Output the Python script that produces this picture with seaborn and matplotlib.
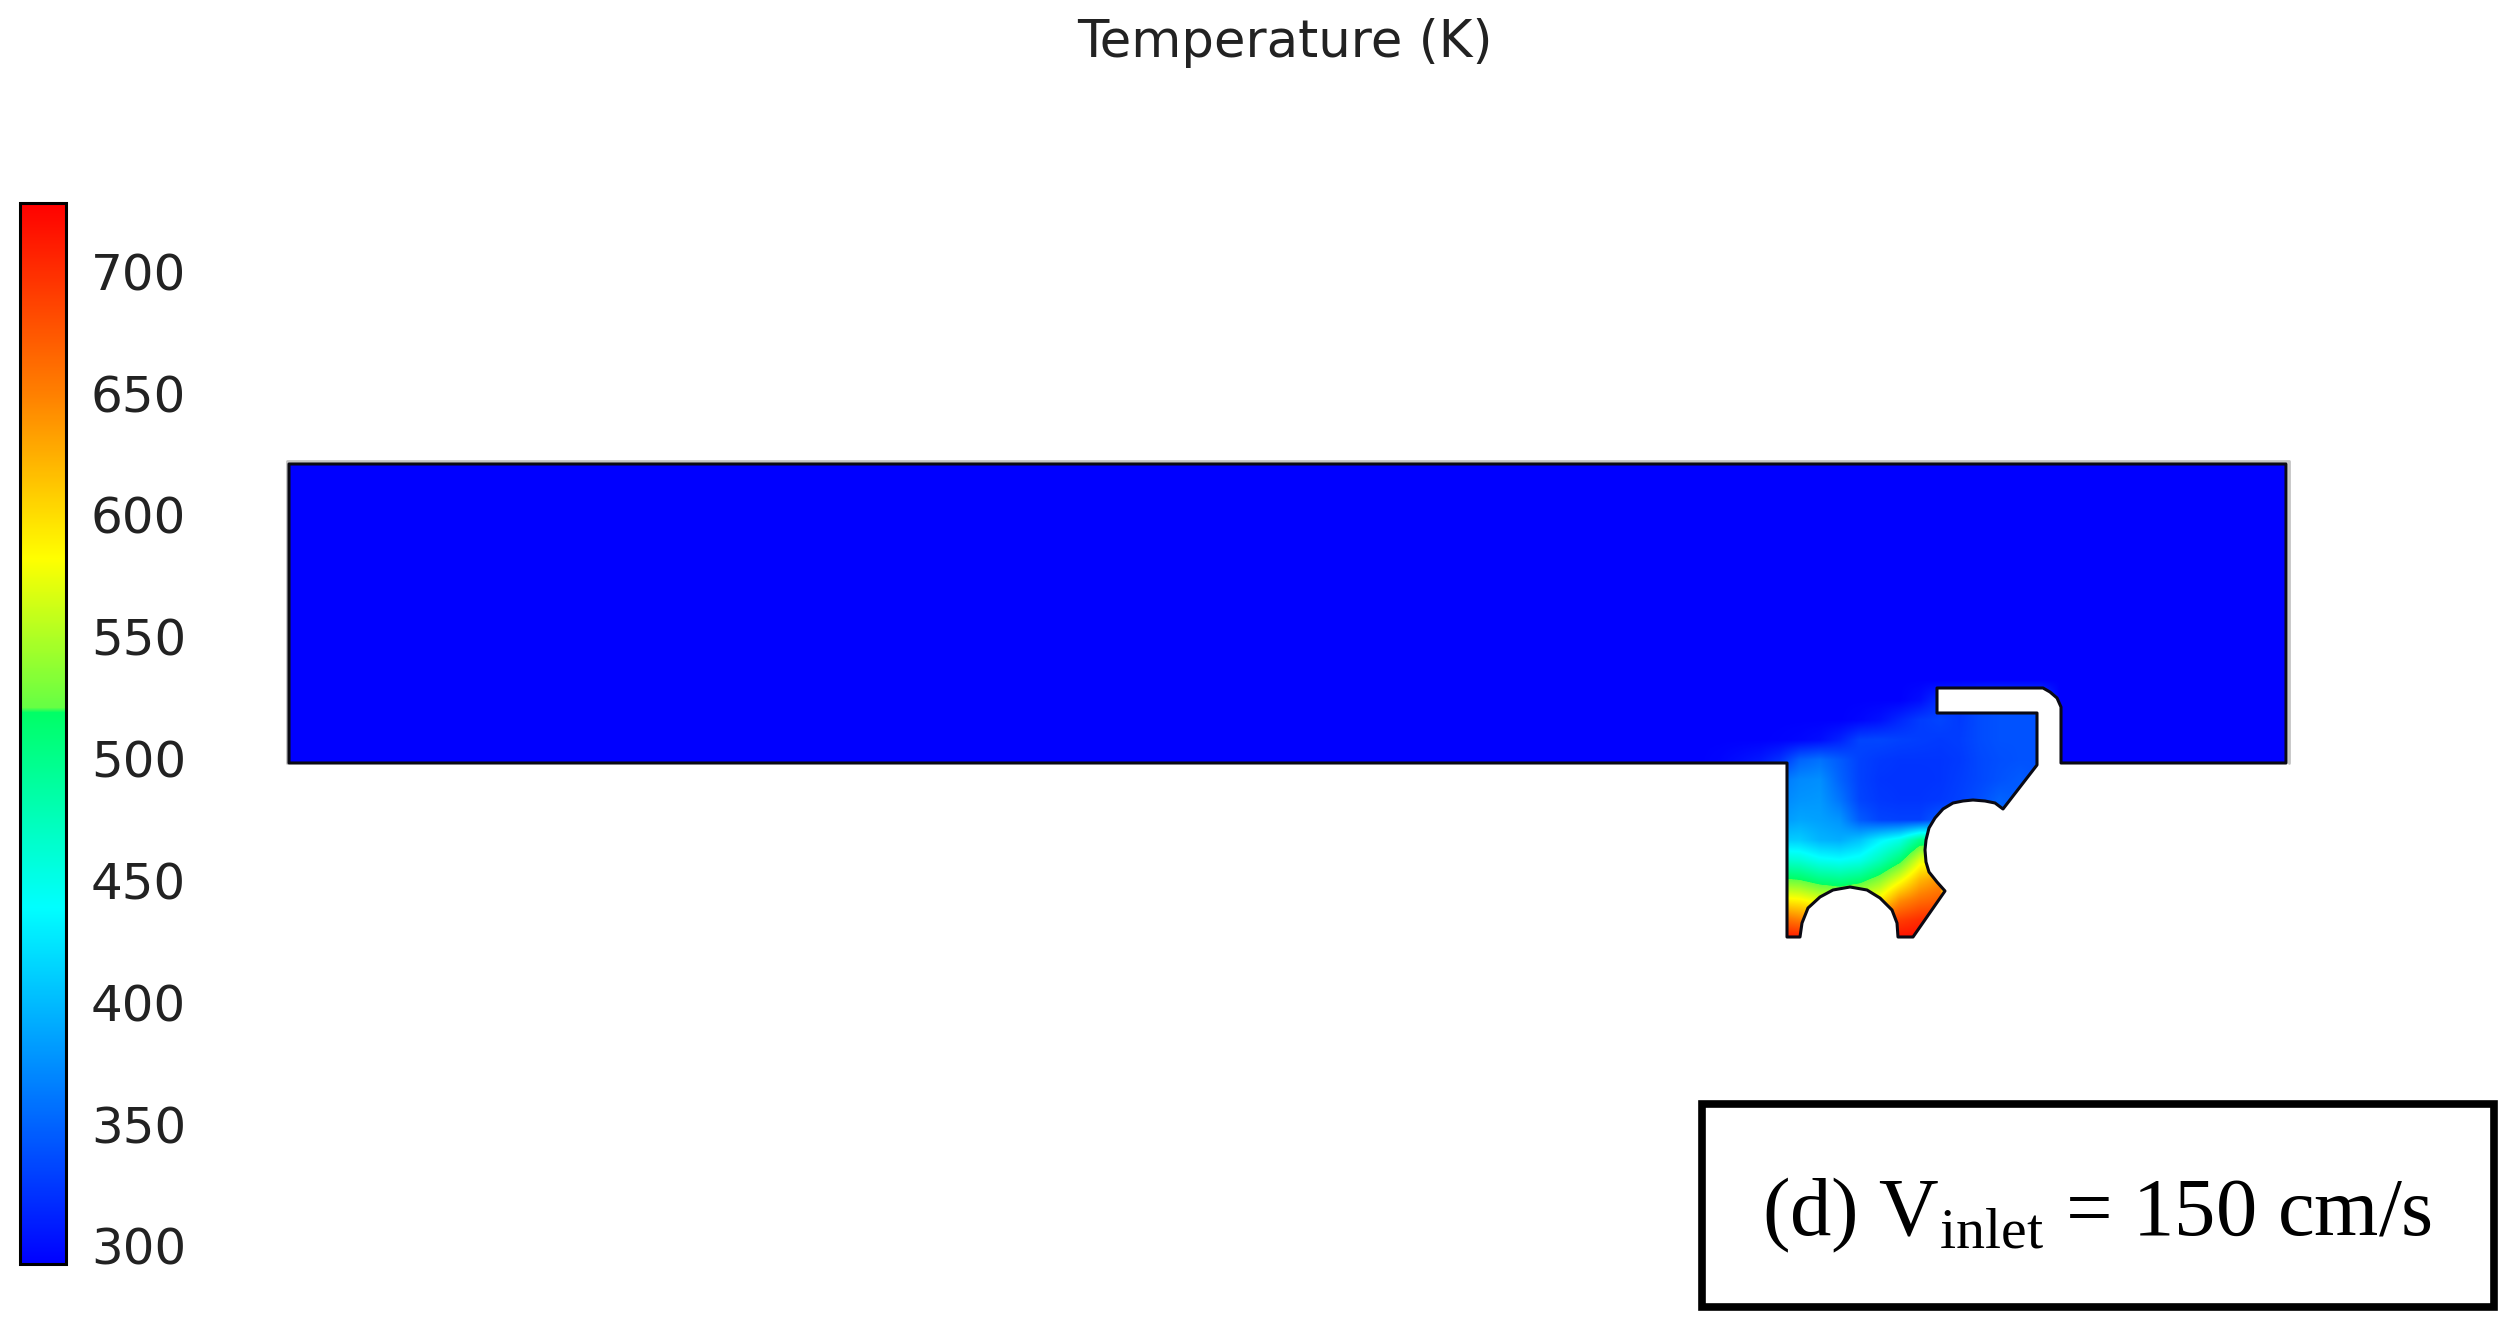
import numpy as np
import pandas as pd
import matplotlib
matplotlib.use("Agg")
import matplotlib.pyplot as plt
import seaborn as sns
from matplotlib.colors import LinearSegmentedColormap
from matplotlib.patches import Polygon, Rectangle

# ---- colour bar ----
vmin, vmax = 292.6, 728.0
tick_labels = [300, 350, 400, 450, 500, 550, 600, 650, 700]

cmap_stops = [0.0, 0.336, 0.52, 0.525, 0.665, 0.82, 1.0]
cmap_colors = ["#0000ff", "#00ffff", "#00ff66", "#66ff44", "#ffff00", "#ff8000", "#ff0000"]

# ---- temperature ----
grid_x = [1700, 1720, 1740, 1760, 1780, 1800, 1820, 1840, 1860, 1880,
          1900, 1920, 1940, 1960, 1980, 2000, 2020, 2040, 2060]
grid_y = [660, 680, 700, 720, 740, 760, 780, 800, 820, 840, 860, 880, 900, 920, 940]
grid_temp = [
    [293, 293, 293, 293, 293, 293, 293, 293, 293, 293, 293, 293, 293, 293, 293, 293, 293, 293, 293],
    [293, 293, 293, 293, 293, 293, 293, 293, 293, 293, 293, 293, 293, 293, 293, 293, 293, 293, 293],
    [293, 293, 293, 293, 293, 293, 293, 293, 293, 293, 293, 300, 320, 325, 335, 340, 340, 340, 293],
    [293, 293, 293, 293, 293, 293, 293, 293, 296, 302, 315, 327, 332, 326, 336, 340, 340, 340, 293],
    [293, 293, 293, 293, 294, 296, 300, 312, 332, 333, 330, 328, 326, 328, 336, 340, 340, 340, 293],
    [293, 295, 300, 306, 320, 350, 358, 345, 330, 325, 323, 323, 323, 326, 334, 338, 340, 340, 293],
    [296, 298, 302, 310, 360, 372, 375, 350, 330, 323, 322, 322, 323, 328, 334, 340, 345, 340, 293],
    [300, 305, 310, 340, 370, 378, 380, 360, 332, 325, 323, 323, 325, 330, 338, 350, 345, 340, 293],
    [300, 305, 310, 350, 380, 388, 385, 378, 345, 332, 330, 330, 345, 345, 345, 350, 345, 340, 293],
    [300, 305, 310, 360, 410, 410, 396, 392, 405, 432, 452, 500, 500, 345, 345, 350, 345, 340, 293],
    [300, 305, 310, 400, 465, 460, 445, 440, 448, 475, 510, 570, 580, 345, 345, 350, 345, 340, 293],
    [300, 305, 310, 450, 525, 520, 505, 500, 510, 535, 575, 620, 640, 345, 345, 350, 345, 340, 293],
    [300, 305, 310, 500, 590, 585, 570, 560, 570, 590, 640, 660, 670, 345, 345, 350, 345, 340, 293],
    [300, 305, 310, 550, 665, 650, 640, 640, 650, 670, 690, 700, 700, 345, 345, 350, 345, 340, 293],
    [300, 305, 310, 600, 720, 720, 720, 720, 720, 720, 722, 722, 722, 345, 345, 350, 345, 340, 293],
]

# background flow channel, uniformly at inlet temperature
channel_temp = [[293, 293, 293, 293], [293, 293, 293, 293]]

# ---- geometry of the domain outline, in picture pixels ----
outline_x = [289, 2286, 2286, 2061, 2061, 2057, 2050, 2043, 1937, 1937, 2037, 2037, 2003,
             1995, 1985, 1973, 1963, 1953, 1943, 1935, 1929, 1926, 1925, 1926, 1929, 1937, 1945,
             1913, 1898, 1897, 1892, 1880, 1867, 1850, 1833, 1820, 1808, 1802, 1800,
             1787, 1787, 289]
outline_y = [464, 464, 763, 763, 707, 698, 692, 688, 688, 713, 713, 765, 809,
             803, 801, 800, 801, 803, 809, 818, 828, 840, 850, 862, 872, 882, 891,
             937, 937, 923, 910, 898, 890, 887, 890, 897, 908, 923, 937,
             937, 763, 763]
halo_x = [287, 287, 2289, 2289]
halo_y = [763, 461, 461, 763]

W, H = 2515, 1330

sns.set_style("white")
plt.rcParams["font.family"] = ["DejaVu Sans"]
plt.rcParams["mathtext.fontset"] = "custom"
plt.rcParams["mathtext.rm"] = "Liberation Serif"

cmap = LinearSegmentedColormap.from_list("comsol", list(zip(cmap_stops, cmap_colors)), N=1024)


def px_axes(fig, x0, y0, x1, y1):
    return fig.add_axes([x0 / W, 1 - y1 / H, (x1 - x0) / W, (y1 - y0) / H])


fig = plt.figure(figsize=(W / 100, H / 100), dpi=100)
ax_channel = px_axes(fig, 288, 462, 2287, 763)
cax = px_axes(fig, 20, 203, 66, 1264)

# channel field + colour bar come from seaborn
sns.heatmap(pd.DataFrame(channel_temp), ax=ax_channel, cmap=cmap, vmin=vmin, vmax=vmax,
            xticklabels=False, yticklabels=False, cbar=True, cbar_ax=cax,
            cbar_kws={"ticks": tick_labels})
mesh = ax_channel.collections[0]
cb = mesh.colorbar
cb.outline.set_linewidth(2.2)
cb.outline.set_edgecolor("black")
cax.tick_params(which="major", left=True, right=True, direction="in", length=7, width=1.8,
                pad=18, labelsize=36, labelcolor="#222222", color="black")

# overlay in picture pixels for the cavity and annotations
ax = fig.add_axes([0, 0, 1, 1], facecolor="none")
ax.set_xlim(0, W)
ax.set_ylim(H, 0)
ax.axis("off")

outline = Polygon(np.column_stack([outline_x, outline_y]), closed=True, fill=False,
                  edgecolor="#0a0a14", linewidth=2.2, joinstyle="round", zorder=5)
ax.add_patch(outline)
ax.plot(halo_x, halo_y, color="#c4c4c4", linewidth=2.0, zorder=4)

# agg caches the clip mask, so the first user must not be limited to its own axes box
mesh.set_clip_box(fig.bbox)
mesh.set_clip_path(outline)

im = ax.imshow(np.array(grid_temp, dtype=float), cmap=cmap, vmin=vmin, vmax=vmax, aspect="auto",
               interpolation="bilinear", origin="upper",
               extent=[grid_x[0] - 10, grid_x[-1] + 10, grid_y[-1] + 10, grid_y[0] - 10], zorder=2)
im.set_clip_path(outline)
ax.set_xlim(0, W)
ax.set_ylim(H, 0)

ax.text(1285, 43, "Temperature (K)", ha="center", va="center", fontsize=37, color="#222222")

ax.add_patch(Rectangle((1702, 1104), 792, 203, fill=False, edgecolor="black", linewidth=5.5, zorder=6))
ax.text(2097, 1235, r"(d) V$_{\mathrm{inlet}}$ = 150 cm/s", ha="center", va="baseline",
        fontsize=59.5, family="Liberation Serif", color="black", zorder=6)

fig.savefig("out.png", dpi=100)
